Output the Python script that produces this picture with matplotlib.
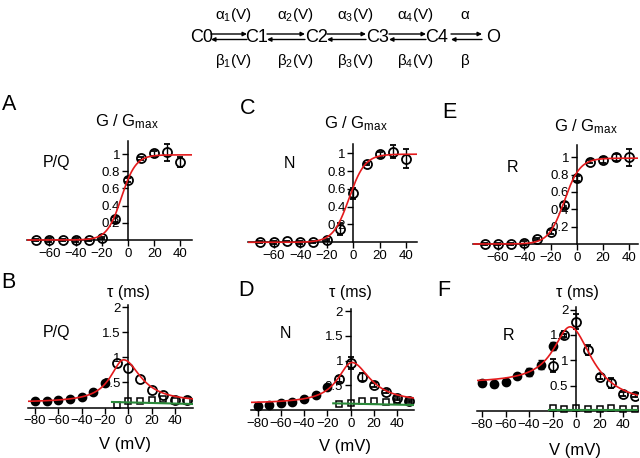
import numpy as np
import matplotlib
matplotlib.use("Agg")
import matplotlib.pyplot as plt

plt.rcParams['font.family'] = ['Liberation Sans', 'DejaVu Sans']
plt.rcParams['mathtext.fontset'] = 'custom'
plt.rcParams['mathtext.rm'] = 'Liberation Sans'
plt.rcParams['mathtext.it'] = 'Liberation Sans:italic'
plt.rcParams['mathtext.sf'] = 'Liberation Sans'

# ---- activation curves (G / Gmax) ----
v_g = [-70, -60, -50, -40, -30, -20, -10, 0, 10, 20, 30, 40]
g_pq = [0, 0, 0, 0, 0, 0.02, 0.24, 0.70, 0.95, 1.01, 1.02, 0.91]
g_pq_err = [0.01, 0.02, 0.01, 0.02, 0.01, 0.01, 0.03, 0.02, 0.02, 0.03, 0.10, 0.06]
g_n = [0, 0, 0.01, 0, 0, 0.03, 0.15, 0.55, 0.88, 0.99, 1.02, 0.94]
g_n_err = [0.01, 0.02, 0.01, 0.02, 0.01, 0.01, 0.07, 0.06, 0.01, 0.03, 0.07, 0.11]
g_r = [0, 0, 0, 0.01, 0.06, 0.14, 0.45, 0.76, 0.95, 0.97, 1.00, 1.00]
g_r_err = [0.01, 0.01, 0.01, 0.02, 0.01, 0.02, 0.04, 0.03, 0.02, 0.03, 0.04, 0.10]
# Boltzmann fit parameters: V1/2, slope, max
fit_g_pq = (-5.0, 5.5, 0.99)
fit_g_n = (-3.2, 6.0, 0.99)
fit_g_r = (-9.5, 6.0, 0.99)

# ---- time constants ----
v_filled = [-80, -70, -60, -50, -40, -30, -20]
tau_pq_filled = [0.12, 0.13, 0.15, 0.17, 0.20, 0.30, 0.48]
tau_n_filled = [0.09, 0.10, 0.15, 0.16, 0.22, 0.30, 0.47]
v_open = [-10, 0, 10, 20, 30, 40, 50]
tau_pq_open = [0.89, 0.78, 0.56, 0.35, 0.25, 0.14, 0.14]
tau_pq_sq = [0.04, 0.12, 0.12, 0.15, 0.17, 0.13, 0.13]
tau_n_open = [0.62, 0.95, 0.66, 0.51, 0.37, 0.24, 0.19]
tau_n_open_err = [0.06, 0.13, 0.08, 0.04, 0.03, 0.04, 0.02]
tau_n_sq = [0.12, 0.15, 0.18, 0.18, 0.17, 0.18, 0.18]
tau_r_filled = [0.56, 0.54, 0.57, 0.70, 0.77, 0.91, 1.28]
tau_r_filled_err = [0.06, 0.06, 0.04, 0.03, 0.08, 0.09, 0.08]
v_open_r = [-20, -10, 0, 10, 20, 30, 40, 50]
tau_r_open = [0.89, 1.49, 1.76, 1.21, 0.68, 0.56, 0.34, 0.30]
tau_r_open_err = [0.13, 0.03, 0.15, 0.10, 0.04, 0.10, 0.04, 0.03]
tau_r_sq = [0.05, 0.03, 0.05, 0.03, 0.03, 0.05, 0.03, 0.03]
# model fit: V peak, peak tau, left base, right base, left width, right width
fit_tau_pq = (-4, 0.95, 0.10, 0.10, 14, 18)
fit_tau_n = (1, 0.96, 0.13, 0.15, 15, 19)
fit_tau_r = (-5, 1.66, 0.55, 0.10, 17.5, 22.7)
# fast component (green line), end points
green_pq = ([-14, 55], [0.11, 0.07])
green_n = ([-15, 56], [0.135, 0.10])
green_r = ([-23, 53], [0.025, 0.025])

W, H = 640, 458
RED = '#e41a1c'
GREEN = '#2a8a3a'


def boltz(v, p):
    vh, k, gm = p
    return gm / (1 + np.exp(-(v - vh) / k))


def bell(v, p):
    vp, peak, bl, br, wl, wr = p
    base = np.where(v < vp, bl, br)
    w = np.where(v < vp, wl, wr)
    return base + (peak - base) / (1 + ((v - vp) / w) ** 2)


def make_axes(fig, x0, sx, y0, sy, xlim, ylim):
    left = x0 + xlim[0] * sx
    right = x0 + xlim[1] * sx
    top = y0 - ylim[1] * sy
    bottom = y0 - ylim[0] * sy
    ax = fig.add_axes([left / W, 1 - bottom / H, (right - left) / W, (bottom - top) / H])
    ax.set_xlim(xlim)
    ax.set_ylim(ylim)
    ax.patch.set_alpha(0)
    for s in ['top', 'right']:
        ax.spines[s].set_visible(False)
    ax.spines['left'].set_position(('data', 0))
    ax.spines['bottom'].set_position(('data', 0))
    ax.spines['left'].set_bounds(0, ylim[1])
    for s in ['left', 'bottom']:
        ax.spines[s].set_linewidth(1.1)
    ax.tick_params(direction='out', length=4, width=1, labelsize=9.5, pad=1.5)
    return ax


def g_panel(ax, g, err, fit):
    ax.set_xticks([-60, -40, -20, 0, 20, 40])
    ax.set_yticks([0.2, 0.4, 0.6, 0.8, 1])
    ax.set_yticklabels(['0.2', '0.4', '0.6', '0.8', '1'])
    ax.errorbar(v_g, g, yerr=err, fmt='o', ms=6.5, mfc='none', mec='black',
                mew=1.3, ecolor='black', elinewidth=1, capsize=2.5, zorder=3)
    vv = np.linspace(ax.get_xlim()[0], ax.get_xlim()[1], 300)
    ax.plot(vv, boltz(vv, fit), color=RED, lw=1.2, zorder=4)


def tau_panel(ax, fit, green):
    ax.set_xticks([-80, -60, -40, -20, 0, 20, 40])
    ax.set_yticks([0.5, 1, 1.5, 2])
    ax.set_yticklabels(['0.5', '1', '1.5', '2'])
    vv = np.linspace(ax.get_xlim()[0], ax.get_xlim()[1], 300)
    ax.plot(vv, bell(vv, fit), color=RED, lw=1.2, zorder=4)
    ax.plot(green[0], green[1], color=GREEN, lw=1.5, zorder=4)


fig = plt.figure(figsize=(6.4, 4.58), dpi=100)

axA = make_axes(fig, 128, 1.31, 240, 86, (-77, 49), (-0.12, 1.15))
g_panel(axA, g_pq, g_pq_err, fit_g_pq)
axC = make_axes(fig, 353.3, 1.327, 242.3, 89, (-79, 48), (-0.12, 1.11))
g_panel(axC, g_n, g_n_err, fit_g_n)
axE = make_axes(fig, 576.7, 1.31, 244, 86.7, (-79, 47), (-0.12, 1.14))
g_panel(axE, g_r, g_r_err, fit_g_r)

ebkw = dict(ecolor='black', elinewidth=1, capsize=2.5, zorder=3)

axB = make_axes(fig, 128.3, 1.165, 407.5, 50.2, (-86, 55.5), (-0.12, 2.05))
tau_panel(axB, fit_tau_pq, green_pq)
axB.plot(v_filled, tau_pq_filled, 'o', ms=6, color='black', zorder=3)
axB.plot(v_open, tau_pq_open, 'o', ms=6.5, mfc='none', mec='black', mew=1.3, zorder=3)
axB.plot(v_open, tau_pq_sq, 's', ms=5, mfc='none', mec='black', mew=1.1, zorder=3)

axD = make_axes(fig, 350.7, 1.165, 410, 49.5, (-85.5, 54.5), (-0.12, 2.05))
tau_panel(axD, fit_tau_n, green_n)
axD.plot(v_filled, tau_n_filled, 'o', ms=6, color='black', zorder=3)
axD.errorbar(v_open, tau_n_open, yerr=tau_n_open_err, fmt='o', ms=6.5, mfc='none',
             mec='black', mew=1.3, **ebkw)
axD.plot(v_open, tau_n_sq, 's', ms=5, mfc='none', mec='black', mew=1.1, zorder=3)

axF = make_axes(fig, 576, 1.175, 411, 50.7, (-84.5, 53), (-0.12, 2.05))
tau_panel(axF, fit_tau_r, green_r)
axF.errorbar(v_filled, tau_r_filled, yerr=tau_r_filled_err, fmt='o', ms=6,
             color='black', **ebkw)
axF.errorbar(v_open_r, tau_r_open, yerr=tau_r_open_err, fmt='o', ms=6.5, mfc='none',
             mec='black', mew=1.3, **ebkw)
axF.plot(v_open_r, tau_r_sq, 's', ms=5, mfc='none', mec='black', mew=1.1, zorder=3)

# overlay in pixel coordinates for labels and the kinetic scheme
ov = fig.add_axes([0, 0, 1, 1])
ov.set_xlim(0, W)
ov.set_ylim(H, 0)
ov.axis('off')

letters = [('A', 2, 105), ('B', 1, 282), ('C', 240, 108), ('D', 238, 290),
           ('E', 442, 112), ('F', 437, 290)]
for s, x, y in letters:
    ov.text(x, y, s, fontsize=15.5, ha='left', va='center')

for x, y in [(127, 122), (356, 124), (586, 127)]:
    ov.text(x, y, r'G / G$_{\mathrm{max}}$', fontsize=12, ha='center', va='center')
for x, y in [(128, 292), (350, 292), (577, 292)]:
    ov.text(x, y, 'τ (ms)', fontsize=11.5, ha='center', va='center')
for x, y in [(125, 444), (345, 446), (575, 450)]:
    ov.text(x, y, 'V (mV)', fontsize=12, ha='center', va='center')
for s, x, y in [('P/Q', 57, 162), ('P/Q', 57, 332), ('N', 289, 164), ('N', 285, 333),
                ('R', 512, 167), ('R', 508, 335)]:
    ov.text(x, y, s, fontsize=11.5, ha='center', va='center')

# kinetic scheme
states = ['C0', 'C1', 'C2', 'C3', 'C4', 'O']
state_x = [202, 257, 317, 378, 437, 493]
fwd = ['α$_1$(V)', 'α$_2$(V)', 'α$_3$(V)', 'α$_4$(V)', 'α']
bwd = ['β$_1$(V)', 'β$_2$(V)', 'β$_3$(V)', 'β$_4$(V)', 'β']
rate_x = [233, 295, 355, 415, 465]
arrow_x = [(211, 247), (267, 305), (327, 366), (389, 426), (451, 482)]
for s, x in zip(states, state_x):
    ov.text(x, 37, s, fontsize=13, ha='center', va='center')
for a, b, x in zip(fwd, bwd, rate_x):
    ov.text(x, 15, a, fontsize=11, ha='center', va='center')
    ov.text(x, 61, b, fontsize=11, ha='center', va='center')
for x1, x2 in arrow_x:
    ov.annotate('', xy=(x2, 34), xytext=(x1, 34),
                arrowprops=dict(arrowstyle='-|>', lw=1, color='black', mutation_scale=6,
                                shrinkA=0, shrinkB=0))
    ov.annotate('', xy=(x1, 39.5), xytext=(x2, 39.5),
                arrowprops=dict(arrowstyle='-|>', lw=1, color='black', mutation_scale=6,
                                shrinkA=0, shrinkB=0))

fig.savefig('out.png', dpi=100)
